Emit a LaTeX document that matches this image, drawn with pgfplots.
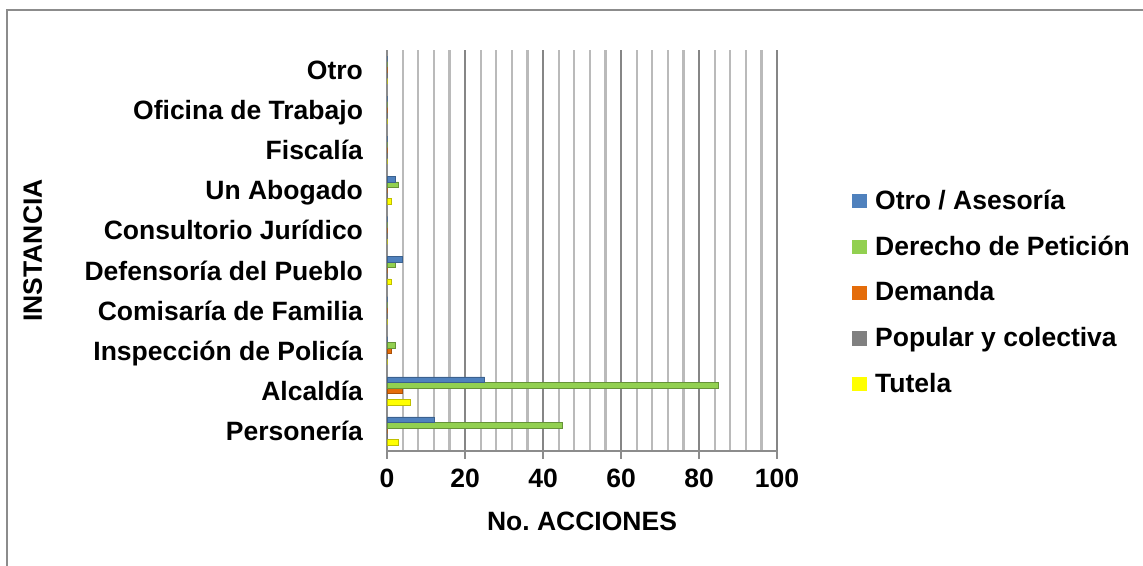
\documentclass[border=0pt]{standalone}
\usepackage{fontspec}
\setmainfont{Liberation Sans}
\usepackage{pgfplots}
\pgfplotsset{compat=1.18}
\definecolor{cBlue}{HTML}{4F81BD}
\definecolor{cGreen}{HTML}{92D050}
\definecolor{cOrange}{HTML}{E46C0A}
\definecolor{cGray}{HTML}{808080}
\definecolor{cYellow}{HTML}{FFFF00}
\definecolor{gMaj}{HTML}{868686}
\definecolor{gMin}{HTML}{BABABA}
\definecolor{frameC}{HTML}{8C8C8C}
\newcommand{\bigbf}{\fontsize{13.25}{15.9}\selectfont\bfseries}
\begin{document}
\begin{tikzpicture}[font=\bigbf]
\path[use as bounding box] (0,0) rectangle (571.5pt,283pt);
\draw[frameC, line width=1pt] (3.25pt,0) -- (3.25pt,277.75pt) -- (571.5pt,277.75pt);
\begin{axis}[
  at={(193.5pt,57.5pt)}, anchor=south west,
  scale only axis, width=195pt, height=200.5pt,
  xbar=0pt, bar width=2.8pt,
  xmin=0, xmax=100, ymin=-0.5, ymax=9.5,
  xtick={0,20,...,100},
  minor xtick={4,8,12,16,24,28,32,36,44,48,52,56,64,68,72,76,84,88,92,96},
  ytick={0,...,9},
  yticklabels={Personería, Alcaldía, Inspección de Policía, Comisaría de Familia, Defensoría del Pueblo, Consultorio Jurídico, Un Abogado, Fiscalía, Oficina de Trabajo, Otro},
  axis x line*=bottom, axis y line*=left,
  axis line style={-, draw=frameC, line width=1pt},
  tick align=outside,
  major tick length=4pt, minor tick length=0pt,
  xtick style={draw=frameC, line width=1pt},
  ytick style={draw=none},
  xmajorgrids, xminorgrids,
  major grid style={gMaj, line width=1pt},
  minor grid style={gMin, line width=1.1pt},
  /pgf/number format/assume math mode=true,
  tick label style={font=\bigbf},
  yticklabel style={xshift=-4.5pt, text height=9.5pt, text depth=0pt},
  xticklabel style={yshift=-1.5pt},
  xlabel={No.\ ACCIONES},
  ylabel={INSTANCIA},
  label style={font=\bigbf},
  xlabel style={at={(axis description cs:0.5,-0.175)}, anchor=center},
  ylabel style={at={(axis description cs:-0.908,0.5)}, anchor=center},
  legend style={at={(axis description cs:1.1925,0.66)}, anchor=north west, draw=none, fill=none, font=\bigbf, row sep=8.75pt, inner sep=0pt, nodes={inner sep=1.5pt, anchor=west}},
  legend cell align=left, reverse legend,
  legend image code/.code={\fill[#1, draw=none] (0pt,-3.6pt) rectangle (7.2pt,3.6pt); \path (9.7pt,0pt);},
]
\addplot[fill=cYellow, draw=cYellow!75!black, line width=0.3pt] coordinates {(3,0) (6,1) (0,2) (0,3) (1,4) (0,5) (1,6) (0,7) (0,8) (0,9)};
\addplot[fill=cGray, draw=cGray!75!black, line width=0.3pt] coordinates {(0,0) (0,1) (0,2) (0,3) (0,4) (0,5) (0,6) (0,7) (0,8) (0,9)};
\addplot[fill=cOrange, draw=cOrange!75!black, line width=0.3pt] coordinates {(0,0) (4,1) (1,2) (0,3) (0,4) (0,5) (0,6) (0,7) (0,8) (0,9)};
\addplot[fill=cGreen, draw=cGreen!70!black, line width=0.3pt] coordinates {(45,0) (85,1) (2,2) (0,3) (2,4) (0,5) (3,6) (0,7) (0,8) (0,9)};
\addplot[fill=cBlue, draw=cBlue!75!black, line width=0.3pt] coordinates {(12,0) (25,1) (0,2) (0,3) (4,4) (0,5) (2,6) (0,7) (0,8) (0,9)};
\legend{Tutela, Popular y colectiva, Demanda, Derecho de Petición, Otro / Asesoría}
\end{axis}
\end{tikzpicture}
\end{document}
